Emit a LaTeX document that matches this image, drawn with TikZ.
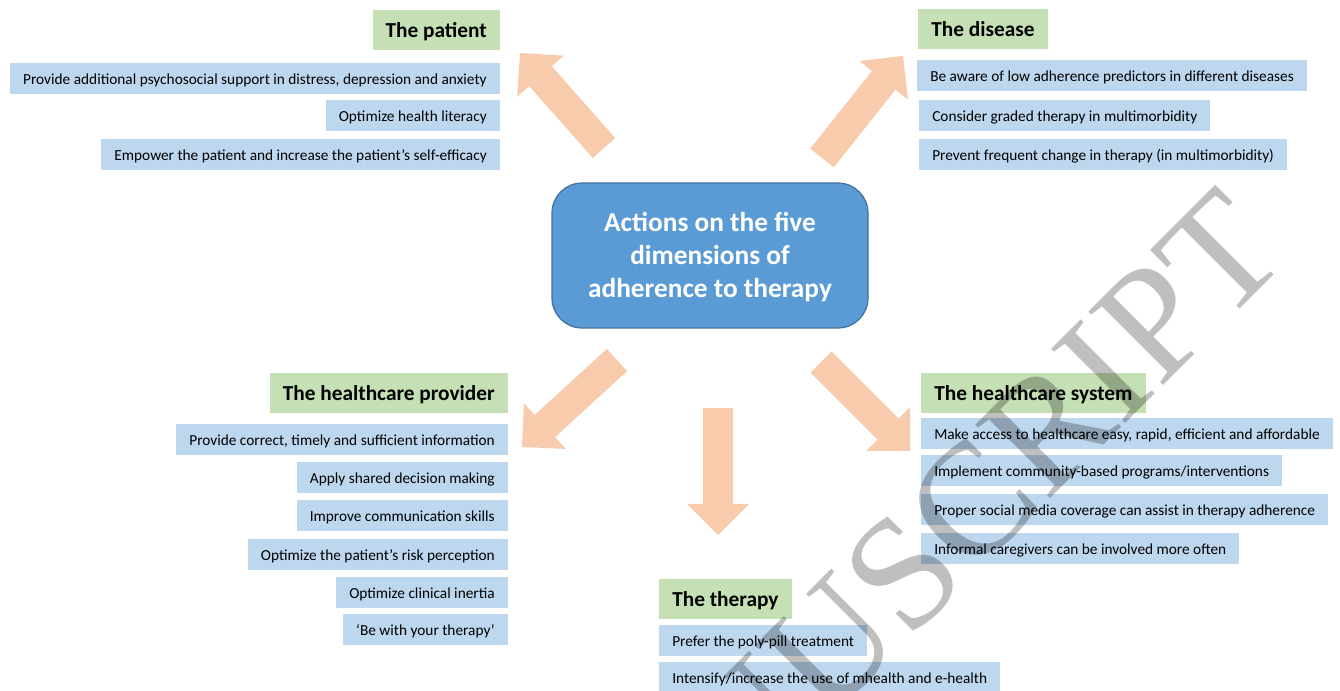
\documentclass[tikz,border=0pt]{standalone}
\usepackage{fontspec}
\setmainfont{Carlito}
\newfontfamily\wmfont{Liberation Serif}
\usetikzlibrary{arrows.meta}
\definecolor{hdrgreen}{HTML}{C5E0B4}
\definecolor{itmblue}{HTML}{BDD7EE}
\definecolor{corefill}{HTML}{5B9BD5}
\definecolor{coreline}{HTML}{41719C}
\definecolor{peach}{HTML}{F8CBAD}
\tikzset{
  box/.style = {inner ysep=0pt, inner xsep=9.75pt, text=black},
  dim_h/.style = {box, fill=hdrgreen, minimum height=30pt,
    text height=15pt, text depth=3.5pt,
    font=\bfseries\fontsize{16}{19}\selectfont},% titre de dimension
  dim_i/.style = {box, fill=itmblue, minimum height=23.25pt,
    text height=10.5pt, text depth=2.5pt,
    font=\fontsize{11.5}{14}\selectfont},% action
  core/.style = {draw=coreline, line width=0.9pt, fill=corefill,
    rounded corners=22.5pt, minimum width=237pt, minimum height=108.75pt,
    align=center, text=white, text height=65.5pt,
    font=\bfseries\fontsize{20.5}{24.75}\selectfont},
  bigarrow/.style = {draw=peach, line width=22.5pt,
    -{Triangle[length=23.25pt, width=46.5pt, line width=0pt]}},
  wm/.style = {anchor=base, rotate=45, inner sep=0pt, text=black,
    text opacity=0.25, font=\wmfont\fontsize{120}{120}\selectfont}
}
\begin{document}
\begin{tikzpicture}[x=0.75pt, y=-0.75pt]
\useasboundingbox (0,0) rectangle (1340,691);

\node [core] (core) at (710,255.5) {Actions on the five\\dimensions of\\adherence to therapy};

% the patient
\node [dim_h, anchor=north east] (pat) at (500,10) {The patient};
\node [dim_i, anchor=north east] (pat1) at (500,63) {Provide additional psychosocial support in distress, depression and anxiety};
\node [dim_i, anchor=north east] (pat2) at (500,100) {Optimize health literacy};
\node [dim_i, anchor=north east] (pat3) at (500,139) {Empower the patient and increase the patient’s self-efficacy};

% the disease
\node [dim_h, anchor=north west] (dis) at (918,9) {The disease};
\node [dim_i, anchor=north west] (dis1) at (917,60) {Be aware of low adherence predictors in different diseases};
\node [dim_i, anchor=north west] (dis2) at (919,100) {Consider graded therapy in multimorbidity};
\node [dim_i, anchor=north west] (dis3) at (919,139) {Prevent frequent change in therapy (in multimorbidity)};

% the healthcare provider
\node [dim_h, anchor=north east] (prov) at (508,373) {The healthcare provider};
\node [dim_i, anchor=north east] (prov1) at (508,424) {Provide correct, timely and sufficient information};
\node [dim_i, anchor=north east] (prov2) at (508,462) {Apply shared decision making};
\node [dim_i, anchor=north east] (prov3) at (508,500) {Improve communication skills};
\node [dim_i, anchor=north east] (prov4) at (508,539) {Optimize the patient’s risk perception};
\node [dim_i, anchor=north east] (prov5) at (508,577) {Optimize clinical inertia};
\node [dim_i, anchor=north east] (prov6) at (508,614) {‘Be with your therapy’};

% the healthcare system
\node [dim_h, anchor=north west] (sys) at (921,373) {The healthcare system};
\node [dim_i, anchor=north west] (sys1) at (921,418) {Make access to healthcare easy, rapid, efficient and affordable};
\node [dim_i, anchor=north west] (sys2) at (921,455) {Implement community-based programs/interventions};
\node [dim_i, anchor=north west] (sys3) at (921,494) {Proper social media coverage can assist in therapy adherence};
\node [dim_i, anchor=north west] (sys4) at (921,533) {Informal caregivers can be involved more often};

% the therapy
\node [dim_h, anchor=north west] (ther) at (659,579) {The therapy};
\node [dim_i, anchor=north west] (ther1) at (659,625) {Prefer the poly-pill treatment};
\node [dim_i, anchor=north west] (ther2) at (659,662) {Intensify/increase the use of mhealth and e-health};

% fleches
\coordinate (pat_t) at (604,148);  \coordinate (pat_h) at (520,53);
\coordinate (dis_t) at (822,158);  \coordinate (dis_h) at (903,56);
\coordinate (prov_t) at (617,360); \coordinate (prov_h) at (522,447);
\coordinate (ther_t) at (718,408); \coordinate (ther_h) at (718,535);
\coordinate (sys_t) at (821,362);  \coordinate (sys_h) at (910,451);
\draw [bigarrow] (pat_t) -- (pat_h);
\draw [bigarrow] (dis_t) -- (dis_h);
\draw [bigarrow] (prov_t) -- (prov_h);
\draw [bigarrow] (ther_t) -- (ther_h);
\draw [bigarrow] (sys_t) -- (sys_h);

\node [wm] (wmark) at (927,622) {MANUSCRIPT};
\end{tikzpicture}
\end{document}
